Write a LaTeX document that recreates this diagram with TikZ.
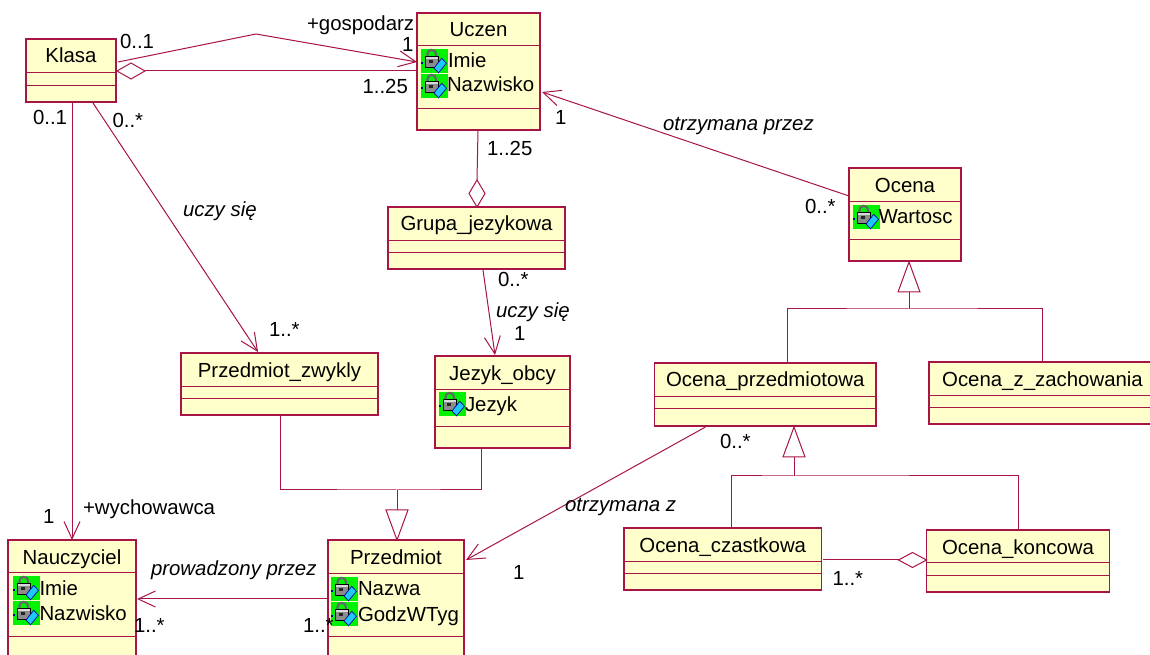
\documentclass[tikz,border=0pt]{standalone}
\usepackage{fontspec}
\setmainfont{Liberation Sans}
\usetikzlibrary{calc,arrows.meta}
\definecolor{umlline}{RGB}{168,20,70}
\definecolor{umlfill}{RGB}{255,255,204}
\definecolor{iconblue}{RGB}{30,200,255}
\definecolor{icondark}{RGB}{0,0,150}
\tikzset{
  boxshape/.style={draw=umlline,fill=umlfill,line width=0.9pt,rectangle,inner sep=0pt,outer sep=0pt},
  divider/.style={draw=umlline,line width=0.75pt},
  conn/.style={draw=umlline,line width=0.75pt},
  assoc/.style={conn,-{Straight Barb[length=13pt,width=12pt]}},
  hollow/.style={conn,fill=white,line join=miter},
  txt/.style={font=\fontsize{15.3}{18}\selectfont,text=black,inner sep=0pt,outer sep=0pt},
  lbl/.style={txt,anchor=base west},
  ilbl/.style={txt,anchor=base west,font=\fontsize{15.3}{18}\selectfont\itshape},
  pics/lockicon/.style={code={
    \fill[green!95!black] (0,0) rectangle (27,24.5);
    \fill[icondark] (-0.5,13) rectangle (1.5,15);
    \draw[black!60,line width=1.6pt] (6.5,8) -- (6.5,5) .. controls (6.5,-0.5) and (15,-0.5) .. (15,5) -- (15,8);
    \draw[black,line width=0.5pt,fill=black!45] (4,7.5) rectangle (17.5,18);
    \fill[black!15] (5,8.5) rectangle (16.5,10);
    \fill[black!85] (8,11.5) rectangle (12,14.5);
    \draw[icondark,line width=0.5pt,fill=iconblue] (13,19) -- (20.7,9.3) -- (25.5,14.3) -- (17.5,23.8) -- cycle;
  }}
}
\newcommand{\umlbox}[9]{%
  \pgfmathsetmacro{\bw}{(#4-#2)*0.75}%
  \pgfmathsetmacro{\bh}{(#5-#3)*0.75}%
  \node[boxshape,minimum width=\bw pt,minimum height=\bh pt] (#1) at ({(#2+#4)/2},{(#3+#5)/2}) {};
  \draw[divider] (#2,#6) -- (#4,#6);
  \draw[divider] (#2,#7) -- (#4,#7);
  \node[txt,anchor=base] (#1-title) at ({(#2+#4)/2},#9) {#8};
}
\begin{document}
\begin{tikzpicture}[x=0.75pt,y=-0.75pt]
\useasboundingbox (0,0) rectangle (1150,655);
\fill[white] (0,0) rectangle (1150,655);
\clip (0,0) rectangle (1150,655);

% classes
\umlbox{klasa}{26}{39}{116}{102}{73}{86}{Klasa}{63}
\umlbox{uczen}{417}{13}{540}{130}{46}{109}{Uczen}{37}
\umlbox{grupa}{388}{207}{565}{269}{241}{253}{Grupa\_jezykowa}{231}
\umlbox{ocena}{849}{168}{961}{261}{202}{240}{Ocena}{193}
\umlbox{pzwykly}{181}{353}{378}{415}{387}{399}{Przedmiot\_zwykly}{378}
\umlbox{jezyk}{435}{356}{570}{448}{390}{427}{Jezyk\_obcy}{381}
\umlbox{oprzedm}{654.5}{363}{876}{426}{397}{409}{Ocena\_przedmiotowa}{387}
\umlbox{ozach}{929}{362}{1156}{424}{396}{408}{Ocena\_z\_zachowania}{387}
\umlbox{oczast}{624}{528}{821.5}{590}{562}{574}{Ocena\_czastkowa}{553}
\umlbox{okonc}{926.5}{530}{1109.5}{592}{563}{576}{Ocena\_koncowa}{555}
\umlbox{naucz}{8}{540}{136}{665}{573}{637}{Nauczyciel}{565}
\umlbox{przedm}{328}{540}{464}{665}{574}{637}{Przedmiot}{565}

% icons and attributes
\pic at (421,49) {lockicon};
\pic at (421,74) {lockicon};
\node[lbl] (a1) at (448,68) {Imie};
\node[lbl] (a2) at (447,92) {Nazwisko};
\pic at (853,205) {lockicon};
\node[lbl] (a3) at (878.5,224) {Wartosc};
\pic at (439,392) {lockicon};
\node[lbl] (a4) at (465,412) {Jezyk};
\pic at (13,576) {lockicon};
\pic at (13,601) {lockicon};
\node[lbl] (a5) at (39.5,595) {Imie};
\node[lbl] (a6) at (39.5,621) {Nazwisko};
\pic at (331,577) {lockicon};
\pic at (331,602) {lockicon};
\node[lbl] (a7) at (358,596) {Nazwa};
\node[lbl] (a8) at (358,622) {GodzWTyg};

% Klasa -> Uczen
\coordinate (bend) at (256,34);
\draw[assoc] ($(klasa.north east)+(2,23)$) -- (bend) -- ($(uczen.north west)+(0,49)$);
% Klasa <>- Uczen
\coordinate (dk) at ($(klasa.north east)+(1,32)$);
\draw[hollow] (dk) -- ++(14,-8) -- ++(14,8) -- ++(-14,8) -- cycle;
\draw[conn] ($(dk)+(28,0)$) -- ($(uczen.north west)+(0,58)$);
% Uczen -<> Grupa
\coordinate (dg) at ($(grupa.north west)+(89,0)$);
\draw[hollow] (dg) -- ++(-8,-13.5) -- ++(8,-13.5) -- ++(8,13.5) -- cycle;
\draw[conn] ($(uczen.south west)+(61,0)$) -- ($(dg)+(0,-27)$);
% associations
\draw[assoc] ($(klasa.south west)+(46,1)$) -- ($(naucz.north west)+(64,0)$);
\draw[assoc] ($(klasa.south west)+(67,1)$) -- ($(pzwykly.north west)+(77,-1)$);
\draw[assoc] ($(grupa.south west)+(95,1)$) -- ($(jezyk.north west)+(60,-1)$);
\draw[assoc] ($(ocena.north west)+(0,28)$) -- ($(uczen.north east)+(2,79)$);
\draw[assoc] ($(oprzedm.south west)+(51,1)$) -- ($(przedm.north east)+(2,20)$);
\draw[assoc] ($(przedm.north west)+(0,59)$) -- ($(naucz.north east)+(1,59)$);
% generalisation to Przedmiot
\coordinate (t1) at ($(przedm.north west)+(69,0)$);
\coordinate (j1) at ($(t1)+(0,-50)$);
\draw[conn] ($(pzwykly.south west)+(99,0)$) |- (j1) -| ($(jezyk.south west)+(46,0)$);
\draw[conn] (j1) -- ($(t1)+(0,-30)$);
\draw[hollow] (t1) -- ++(-11,-30) -- ++(22,0) -- cycle;
% generalisation to Ocena
\coordinate (t2) at ($(ocena.south west)+(60,1)$);
\coordinate (j2) at ($(t2)+(0,47)$);
\draw[conn] ($(oprzedm.north west)+(132.5,0)$) |- (j2) -| ($(ozach.north west)+(113,0)$);
\draw[conn] (j2) -- ($(t2)+(0,30)$);
\draw[hollow] (t2) -- ++(-11,30) -- ++(22,0) -- cycle;
% generalisation to Ocena_przedmiotowa
\coordinate (t3) at ($(oprzedm.south west)+(139.5,1)$);
\coordinate (j3) at ($(t3)+(0,49)$);
\draw[conn] ($(oczast.north west)+(107,0)$) |- (j3) -| ($(okonc.north west)+(91.5,0)$);
\draw[conn] (j3) -- ($(t3)+(0,30)$);
\draw[hollow] (t3) -- ++(-11,30) -- ++(22,0) -- cycle;
% Ocena_czastkowa -<> Ocena_koncowa
\coordinate (dc) at ($(okonc.north west)+(0,30)$);
\draw[hollow] (dc) -- ++(-14,-7.5) -- ++(-14,7.5) -- ++(14,7.5) -- cycle;
\draw[conn] ($(oczast.north east)+(1.5,32)$) -- ($(dc)+(-28,0)$);

% connector labels
\node[lbl] (l1) at (120,49) {0..1};
\node[lbl] (l2) at (307,31) {+gospodarz};
\node[lbl] (l3) at (402,52) {1};
\node[lbl] (l4) at (362.5,94) {1..25};
\node[lbl] (l5) at (33,125) {0..1};
\node[lbl] (l6) at (112.5,128) {0..*};
\node[lbl] (l7) at (487,156) {1..25};
\node[lbl] (l8) at (555,125) {1};
\node[ilbl] (l9) at (663,131) {otrzymana przez};
\node[lbl] (l10) at (805,214) {0..*};
\node[ilbl] (l11) at (183,217) {uczy się};
\node[lbl] (l12) at (269,337) {1..*};
\node[lbl] (l13) at (498,287) {0..*};
\node[ilbl] (l14) at (496,318) {uczy się};
\node[lbl] (l15) at (514,341) {1};
\node[lbl] (l16) at (83,515) {+wychowawca};
\node[lbl] (l17) at (43,524) {1};
\node[ilbl] (l18) at (151,576) {prowadzony przez};
\node[lbl] (l19) at (134,633) {1..*};
\node[lbl] (l20) at (303,633) {1..*};
\node[ilbl] (l21) at (565,512) {otrzymana z};
\node[lbl] (l22) at (513,580) {1};
\node[lbl] (l23) at (720,449) {0..*};
\node[lbl] (l24) at (832.5,586) {1..*};
\end{tikzpicture}
\end{document}
